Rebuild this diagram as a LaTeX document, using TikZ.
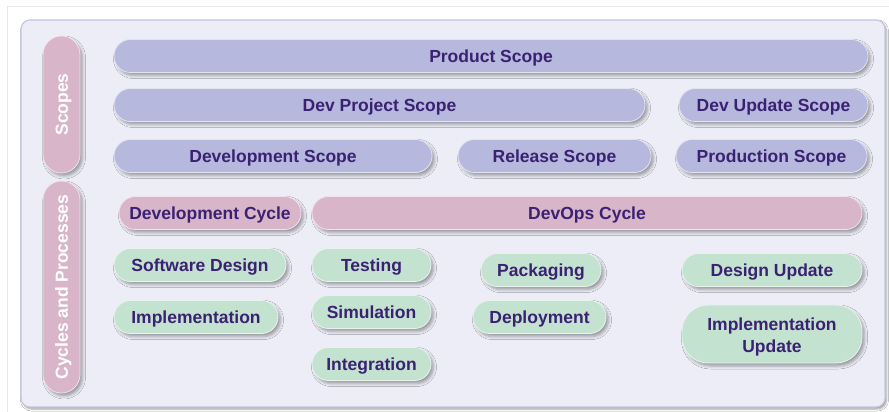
\documentclass[tikz,border=0pt]{standalone}
\usepackage{fontspec}
\setmainfont{Liberation Sans}
\usetikzlibrary{shadows.blur}
\definecolor{panelfill}{HTML}{EDEDF7}
\definecolor{panelline}{HTML}{C6C6E0}
\definecolor{scopefill}{HTML}{B6B8DD}
\definecolor{cyclefill}{HTML}{D9B5CA}
\definecolor{procfill}{HTML}{C4E2D0}
\definecolor{labeltext}{HTML}{3B2173}
\definecolor{frameline}{HTML}{E8E8EC}
\tikzset{
  pillbase/.style={draw=white!60!#1, line width=0.8pt, fill=#1, rounded corners=16.5pt,
    minimum height=33pt, inner sep=0pt, text=labeltext,
    font=\fontsize{17.5}{20}\selectfont\bfseries, align=center,
    blur shadow={shadow xshift=2.5pt, shadow yshift=-3pt, shadow blur radius=3pt,
      shadow opacity=35}},
  % single-line labels: centre the capitals in the pill
  pill/.style={pillbase=#1, text height=12.6pt, text depth=0pt},
  scopepill/.style={pill=scopefill},
  cyclepill/.style={pill=cyclefill},
  procpill/.style={pill=procfill},
  sidepill/.style={pill=cyclefill, text=white, rotate=90, minimum height=37pt,
    rounded corners=18.5pt}
}
\begin{document}
\begin{tikzpicture}[x=1pt, y=-1pt]
  \useasboundingbox[fill=white] (0,0) rectangle (889,412);
  % faint page frame
  \draw[frameline, line width=1pt] (7,420) -- (7,7) -- (900,7);
  % main panel
  \node[draw=panelline, fill=panelfill, line width=1.2pt, rounded corners=9pt,
        minimum width=864pt, minimum height=387pt, inner sep=0pt,
        blur shadow={shadow xshift=1.5pt, shadow yshift=-2pt, shadow blur radius=2pt,
          shadow opacity=40}]
        (panel) at (453,213.5) {};

  % side labels
  \node[sidepill, minimum width=137pt] (scopes) at (61.5,104.5) {Scopes};
  \node[sidepill, minimum width=212pt] (cycles) at (61.5,287) {Cycles and Processes};

  % scopes
  \node[scopepill, minimum width=754pt] (product) at (491,56) {Product Scope};
  \node[scopepill, minimum width=531pt] (devproject) at (379.5,105) {Dev Project Scope};
  \node[scopepill, minimum width=189pt] (devupdate) at (773.5,105) {Dev Update Scope};
  \node[scopepill, minimum width=318pt] (development) at (273,156) {Development Scope};
  \node[scopepill, minimum width=193pt] (release) at (554.5,156) {Release Scope};
  \node[scopepill, minimum width=191pt] (production) at (771.5,156) {Production Scope};

  % cycles
  \node[cyclepill, minimum width=182pt] (devcycle) at (210,213) {Development Cycle};
  \node[cyclepill, minimum width=550pt] (devops) at (587,213) {DevOps Cycle};

  % processes
  \node[procpill, minimum width=172pt] (swdesign) at (200,265) {Software Design};
  \node[procpill, minimum width=164pt] (impl) at (196,317) {Implementation};
  \node[procpill, minimum width=119pt] (testing) at (371.5,265) {Testing};
  \node[procpill, minimum width=119pt] (simulation) at (371.5,312) {Simulation};
  \node[procpill, minimum width=119pt] (integration) at (371.5,364) {Integration};
  \node[procpill, minimum width=120pt] (packaging) at (541,270) {Packaging};
  \node[procpill, minimum width=133pt] (deployment) at (539.5,317) {Deployment};
  \node[procpill, minimum width=180pt] (designupd) at (772,270) {Design Update};
  \node[pillbase=procfill, minimum width=180pt, minimum height=58pt, rounded corners=26pt,
        font=\fontsize{17.5}{21.5}\selectfont\bfseries]
        (implupd) at (772,334) {\rule{0pt}{18.6pt}Implementation\\Update};
\end{tikzpicture}
\end{document}
